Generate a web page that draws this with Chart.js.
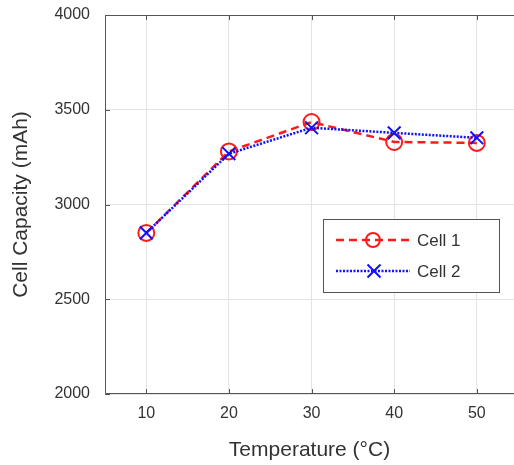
<!DOCTYPE html>
<html>
<head>
<meta charset="utf-8">
<script src="https://cdn.jsdelivr.net/npm/chart.js@4.4.0/dist/chart.umd.min.js"></script>
<style>
	html, body { margin: 0; padding: 0; background: #fff; overflow: hidden; }
	canvas { display: block; }
</style>
</head>
<body>
<canvas id="myChart" width="514" height="465"></canvas>
<script>
// values
const temps = [10, 20, 30, 40, 50]
const cell1 = [2850, 3280, 3435, 3330, 3325]
const cell2 = [2850, 3268, 3405, 3378, 3352]
const xTicks = [10, 20, 30, 40, 50]
const yTicks = [2000, 2500, 3000, 3500, 4000]
const seriesNames = ['Cell 1', 'Cell 2']

const textColor = '#333'
const gridColor = '#e3e3e3'
const boxColor = '#555'
const fontFamily = '"Liberation Sans", Arial, Helvetica, sans-serif'

const ctx = document.getElementById('myChart').getContext('2d')

// MATLAB style axes lines with short inward ticks
// (the figure is cropped on the right, so no right edge is drawn)
const axesBox = {
	id: 'axesBox',
	afterDatasetsDraw(chart) {
		const {ctx, chartArea: a, scales: {x, y}} = chart
		ctx.save()
		ctx.strokeStyle = boxColor
		ctx.lineWidth = 1
		ctx.beginPath()
		ctx.moveTo(a.right, a.top + 0.5)
		ctx.lineTo(a.left + 0.5, a.top + 0.5)
		ctx.lineTo(a.left + 0.5, a.bottom - 0.5)
		ctx.lineTo(a.right, a.bottom - 0.5)
		xTicks.forEach(v => {
			const px = Math.round(x.getPixelForValue(v)) + 0.5
			ctx.moveTo(px, a.bottom); ctx.lineTo(px, a.bottom - 5)
			ctx.moveTo(px, a.top); ctx.lineTo(px, a.top + 5)
		})
		yTicks.forEach(v => {
			const py = Math.round(y.getPixelForValue(v)) + 0.5
			ctx.moveTo(a.left, py); ctx.lineTo(a.left + 5, py)
		})
		ctx.stroke()
		ctx.restore()
	}
}

// legend box drawn inside the plot, lower right
const boxLegend = {
	id: 'boxLegend',
	afterDraw(chart) {
		const ctx = chart.ctx
		const x0 = 323, y0 = 219, w = 176, h = 73
		ctx.save()
		ctx.fillStyle = '#fff'
		ctx.fillRect(x0, y0, w, h)
		ctx.strokeStyle = boxColor
		ctx.lineWidth = 1
		ctx.strokeRect(x0 + 0.5, y0 + 0.5, w, h)

		chart.data.datasets.forEach((ds, i) => {
			const ly = y0 + 21 + i * 31
			ctx.strokeStyle = ds.borderColor
			ctx.lineWidth = ds.borderWidth
			ctx.setLineDash(ds.borderDash)
			ctx.beginPath()
			ctx.moveTo(336, ly)
			ctx.lineTo(410, ly)
			ctx.stroke()
			ctx.setLineDash([])
			ctx.lineWidth = ds.pointBorderWidth
			ctx.strokeStyle = ds.pointBorderColor
			ctx.beginPath()
			if (ds.pointStyle === 'circle') {
				ctx.arc(373, ly, 7, 0, Math.PI * 2)
			} else {
				const r = 6.5
				ctx.moveTo(374 - r, ly - r); ctx.lineTo(374 + r, ly + r)
				ctx.moveTo(374 - r, ly + r); ctx.lineTo(374 + r, ly - r)
			}
			ctx.stroke()

			ctx.fillStyle = textColor
			ctx.font = '17px ' + fontFamily
			ctx.textBaseline = 'middle'
			ctx.textAlign = 'left'
			ctx.fillText(ds.label, 417, ly + 1)
		})
		ctx.restore()
	}
}

const toPoints = vals => temps.map((t, i) => ({x: t, y: vals[i]}))

const myChart = new Chart(ctx, {
	type: 'line',
	data: {
		datasets: [{
			label: seriesNames[0],
			data: toPoints(cell1),
			borderColor: '#ff1a1a',
			borderWidth: 2.5,
			borderDash: [8, 5],
			pointStyle: 'circle',
			pointRadius: 8,
			pointBorderWidth: 2,
			pointBorderColor: '#ff1a1a',
			pointBackgroundColor: 'rgba(0,0,0,0)',
			order: 1
		}, {
			label: seriesNames[1],
			data: toPoints(cell2),
			borderColor: '#1010ff',
			borderWidth: 2.5,
			borderDash: [2, 1.5],
			pointStyle: 'crossRot',
			pointRadius: 9,
			pointBorderWidth: 2,
			pointBorderColor: '#1010ff',
			pointBackgroundColor: 'rgba(0,0,0,0)',
			order: 0
		}]
	},
	options: {
		responsive: false,
		animation: false,
		layout: {autoPadding: false, padding: {left: 0, right: 0, top: 15, bottom: 0}},
		plugins: {
			legend: {display: false},
			tooltip: {enabled: false}
		},
		scales: {
			x: {
				type: 'linear',
				min: 5,
				max: 54.5,
				afterBuildTicks: s => { s.ticks = xTicks.map(v => ({value: v})) },
				afterFit: s => {
					s.height = 71
					s.paddingLeft = 0
					s.paddingRight = 0
				},
				grid: {color: gridColor, drawTicks: false},
				border: {display: false},
				ticks: {color: textColor, padding: 10, font: {family: fontFamily, size: 16}},
				title: {
					display: true,
					text: 'Temperature (°C)',
					color: textColor,
					font: {family: fontFamily, size: 21},
					padding: {top: 0, bottom: 2}
				}
			},
			y: {
				min: 2000,
				max: 4000,
				afterBuildTicks: s => { s.ticks = yTicks.map(v => ({value: v})) },
				afterFit: s => {
					s.width = 105
					s.paddingTop = 0
					s.paddingBottom = 0
				},
				grid: {color: gridColor, drawTicks: false},
				border: {display: false},
				ticks: {
					color: textColor,
					padding: 15,
					font: {family: fontFamily, size: 16},
					callback: v => String(v)
				},
				title: {
					display: true,
					text: 'Cell Capacity (mAh)',
					color: textColor,
					font: {family: fontFamily, size: 21},
					padding: {top: 9, bottom: 0}
				}
			}
		}
	},
	plugins: [axesBox, boxLegend]
})
</script>
</body>
</html>
